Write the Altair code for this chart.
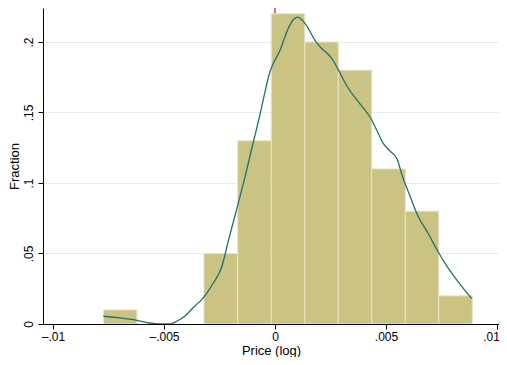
import altair as alt
import pandas as pd

# Histogram (fraction per bin)
bin_edges = [-0.00773, -0.00622, -0.00471, -0.00320, -0.00168, -0.00017,
             0.00134, 0.00285, 0.00436, 0.00587, 0.00738, 0.00889]
fractions = [0.01, 0.0, 0.0, 0.05, 0.13, 0.22, 0.20, 0.18, 0.11, 0.08, 0.02]

# Kernel density (scaled to fraction)
kd_x = [-0.00773, -0.00698, -0.00622, -0.00563, -0.00518, -0.00473, -0.00441,
        -0.00405, -0.00368, -0.00324, -0.00279, -0.00240, -0.00209, -0.00171,
        -0.00135, -0.00104, -0.00068, -0.00023, 0.00023, 0.00060, 0.00081,
        0.00101, 0.00122, 0.00140, 0.00185, 0.00212, 0.00239, 0.00266, 0.00293,
        0.00324, 0.00365, 0.00401, 0.00428, 0.00458, 0.00486, 0.00518, 0.00550,
        0.00572, 0.00608, 0.00644, 0.00689, 0.00734, 0.00775, 0.00824, 0.00886]
kd_y = [0.0055, 0.0043, 0.0026, 0.0007, 0.0001, 0.0001, 0.0021,
        0.0057, 0.0117, 0.0184, 0.0287, 0.0404, 0.0596, 0.0823,
        0.1043, 0.1248, 0.1482, 0.1787, 0.1943, 0.2097, 0.2156,
        0.2177, 0.2156, 0.2121, 0.2000, 0.1950, 0.1915, 0.1858, 0.1780,
        0.1688, 0.1596, 0.1525, 0.1468, 0.1376, 0.1284, 0.1227, 0.1170,
        0.1057, 0.0908, 0.0766, 0.0645, 0.0514, 0.0408, 0.0301, 0.0182]

x_ticks = [-0.01, -0.005, 0, 0.005, 0.01]
x_labels = ["–.01", "–.005", "0", ".005", ".01"]
y_ticks = [0, 0.05, 0.1, 0.15, 0.2]
y_labels = ["0", ".05", ".1", ".15", ".2"]
ref_line = [0.0]

x_domain = [-0.01045, 0.01009]
y_domain = [0, 0.2241]

bars = pd.DataFrame({
    "start": bin_edges[:-1],
    "end": bin_edges[1:],
    "fraction": fractions,
})
kd = pd.DataFrame({"x": kd_x, "y": kd_y})
ref = pd.DataFrame({"x": ref_line})


def label_expr(vals, labels):
    parts = []
    for v, l in zip(vals, labels):
        parts.append(f"abs(datum.value - ({v})) < 1e-9 ? '{l}'")
    return " : ".join(parts) + " : ''"


x_scale = alt.Scale(domain=x_domain, nice=False, zero=False)
y_scale = alt.Scale(domain=y_domain, nice=False)

x_axis = alt.Axis(values=x_ticks, labelExpr=label_expr(x_ticks, x_labels),
                  grid=False, tickSize=5, labelPadding=2, zindex=1,
                  labelOffset={"condition": {"test": "datum.value > 0.0099", "value": -6}, "value": 0},
                  titlePadding=2, labelFontSize=12, titleFontSize=13)
y_axis = alt.Axis(values=y_ticks, labelExpr=label_expr(y_ticks, y_labels),
                  grid=True, gridColor="#E4EEEE", gridWidth=1,
                  tickSize=5, labelAngle=270, labelAlign="center",
                  labelBaseline="bottom", labelPadding=3,
                  titleX=-25, titleY=158, titleAngle=270,
                  titleAlign="center", titleBaseline="alphabetic",
                  labelFontSize=12, titleFontSize=13)

rule = alt.Chart(ref).mark_rule(color="#C8102E", strokeWidth=1.2).encode(
    x=alt.X("x:Q", scale=x_scale, axis=x_axis, title="Price (log)")
)

hist = alt.Chart(bars).transform_filter("datum.fraction > 0").mark_rect(
    color="#CBC383", stroke="#E9E5C3", strokeWidth=1
).encode(
    x=alt.X("start:Q", scale=x_scale, axis=x_axis, title="Price (log)"),
    x2="end:Q",
    y=alt.Y("fraction:Q", scale=y_scale, axis=y_axis, title="Fraction"),
    y2=alt.datum(0),
)

line = alt.Chart(kd).mark_line(color="#23706B", strokeWidth=1.3,
                               interpolate="monotone").encode(
    x=alt.X("x:Q", scale=x_scale, axis=x_axis, title="Price (log)"),
    y=alt.Y("y:Q", scale=y_scale, axis=y_axis, title="Fraction"),
)

chart = alt.layer(rule, hist, line).properties(
    width=456, height=316,
    autosize=alt.AutoSizeParams(type="none"),
    padding={"left": 35, "top": 0, "right": 0, "bottom": 33},
).configure_view(stroke=None).configure_axis(
    labelFont="Liberation Sans", titleFont="Liberation Sans",
    labelColor="#000000", titleColor="#000000", titleFontWeight="normal",
    domainColor="#000000", tickColor="#000000", domainWidth=1, tickWidth=1,
)

chart.save("out.html", embed_options={"renderer": "svg", "actions": False})
